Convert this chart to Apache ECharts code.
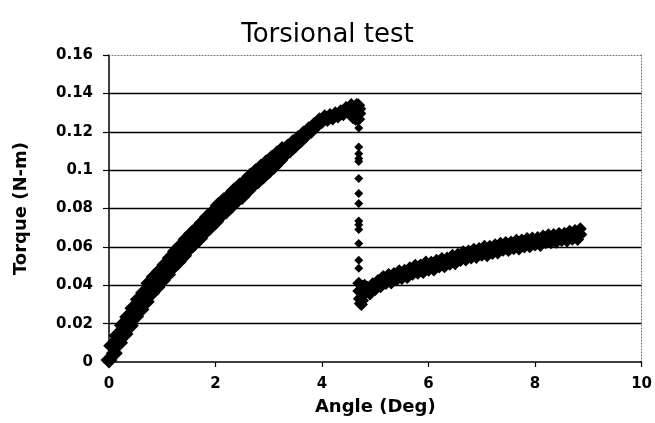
<!DOCTYPE html>
<html>
<head>
<meta charset="utf-8">
<script src="https://cdn.jsdelivr.net/npm/echarts@6/dist/echarts.min.js"></script>
<style>
  html, body { margin: 0; padding: 0; background: #fff; }
  #chart { width: 655px; height: 423px; }
</style>
</head>
<body>
<div id="chart"></div>
<script>
// Torsional test: torque vs. twist angle, sampled readings

// Loading branch up to peak torque [angle (deg), torque (N-m)]
const loadingPoints = [
  [0.00,0.0010],[0.05,0.0085],[0.10,0.0045],[0.15,0.0137],[0.20,0.0100],[0.25,0.0191],
  [0.30,0.0146],[0.35,0.0234],[0.40,0.0189],[0.45,0.0280],[0.50,0.0237],[0.55,0.0326],
  [0.60,0.0274],[0.65,0.0361],[0.70,0.0314],[0.75,0.0411],[0.80,0.0360],[0.85,0.0444],
  [0.90,0.0390],[0.95,0.0473],[1.00,0.0425],[1.05,0.0507],[1.10,0.0456],[1.15,0.0542],
  [1.20,0.0495],[1.25,0.0577],[1.30,0.0523],[1.35,0.0606],[1.40,0.0554],[1.45,0.0640],
  [1.50,0.0590],[1.55,0.0669],[1.60,0.0617],[1.65,0.0694],[1.70,0.0644],[1.75,0.0725],
  [1.80,0.0677],[1.85,0.0756],[1.90,0.0704],[1.95,0.0781],[2.00,0.0731],[2.05,0.0816],
  [2.10,0.0764],[2.15,0.0840],[2.20,0.0787],[2.25,0.0863],[2.30,0.0814],[2.35,0.0893],
  [2.40,0.0842],[2.45,0.0917],[2.50,0.0863],[2.55,0.0940],[2.60,0.0893],[2.65,0.0968],
  [2.70,0.0921],[2.75,0.0992],[2.80,0.0944],[2.85,0.1015],[2.90,0.0970],[2.95,0.1038],
  [3.00,0.0996],[3.05,0.1060],[3.10,0.1022],[3.15,0.1084],[3.20,0.1050],[3.25,0.1108],
  [3.30,0.1074],[3.35,0.1127],[3.40,0.1097],[3.45,0.1151],[3.50,0.1123],[3.55,0.1173],
  [3.60,0.1149],[3.65,0.1196],[3.70,0.1176],[3.75,0.1218],[3.80,0.1200],[3.85,0.1240],
  [3.90,0.1227],[3.95,0.1265],[4.00,0.1251],[4.05,0.1281],[4.10,0.1261],[4.15,0.1287],
  [4.20,0.1269],[4.25,0.1297],[4.30,0.1279],[4.35,0.1307],[4.40,0.1291],[4.45,0.1324],
  [4.50,0.1308],[4.55,0.1339],[4.60,0.1321],[4.65,0.1340],[4.68,0.1338],[4.70,0.1320],
  [4.70,0.1295],[4.68,0.1265],[4.63,0.1268],[4.58,0.1275]
];

// Readings captured during the sudden torque drop at fracture
const fracturePoints = [
  [4.69,0.1220],[4.69,0.1120],[4.69,0.1085],[4.69,0.1060],[4.69,0.1045],[4.69,0.0956],
  [4.69,0.0878],[4.69,0.0826],[4.69,0.0735],[4.69,0.0715],[4.69,0.0690],[4.69,0.0618],
  [4.69,0.0530],[4.69,0.0488]
];

// Residual branch after fracture
const residualPoints = [
  [4.69,0.0410],[4.69,0.0370],[4.70,0.0330],[4.72,0.0305],[4.74,0.0300],[4.76,0.0320],
  [4.76,0.0395],[4.80,0.0355],[4.80,0.0400],
  [4.85,0.0390],[4.90,0.0355],[4.95,0.0408],[5.00,0.0378],[5.05,0.0425],[5.10,0.0392],
  [5.15,0.0445],[5.20,0.0409],[5.25,0.0456],[5.30,0.0412],[5.35,0.0461],[5.40,0.0428],
  [5.45,0.0476],[5.50,0.0435],[5.55,0.0478],[5.60,0.0440],[5.65,0.0491],[5.70,0.0457],
  [5.75,0.0504],[5.80,0.0462],[5.85,0.0505],[5.90,0.0467],[5.95,0.0521],[6.00,0.0478],
  [6.05,0.0520],[6.10,0.0480],[6.15,0.0530],[6.20,0.0495],[6.25,0.0539],[6.30,0.0497],
  [6.35,0.0542],[6.40,0.0509],[6.45,0.0557],[6.50,0.0512],[6.55,0.0562],[6.60,0.0529],
  [6.65,0.0574],[6.70,0.0532],[6.75,0.0579],[6.80,0.0542],[6.85,0.0587],[6.90,0.0544],
  [6.95,0.0591],[7.00,0.0556],[7.05,0.0603],[7.10,0.0554],[7.15,0.0603],[7.20,0.0566],
  [7.25,0.0611],[7.30,0.0568],[7.35,0.0619],[7.40,0.0582],[7.45,0.0623],[7.50,0.0581],
  [7.55,0.0626],[7.60,0.0590],[7.65,0.0635],[7.70,0.0589],[7.75,0.0636],[7.80,0.0600],
  [7.85,0.0643],[7.90,0.0601],[7.95,0.0646],[8.00,0.0610],[8.05,0.0649],[8.10,0.0607],
  [8.15,0.0657],[8.20,0.0621],[8.25,0.0663],[8.30,0.0621],[8.35,0.0664],[8.40,0.0624],
  [8.45,0.0670],[8.50,0.0633],[8.55,0.0671],[8.60,0.0631],[8.65,0.0682],[8.70,0.0640],
  [8.75,0.0685],[8.80,0.0639],[8.85,0.0694],[8.86,0.0665]
];

// Axis ranges
const angleRange = { min: 0, max: 10, step: 2 };
const torqueRange = { min: 0, max: 0.16, step: 0.02 };

const FONT = '"DejaVu Sans", sans-serif';
const chart = echarts.init(document.getElementById('chart'), null, { renderer: 'canvas' });

const markerSeries = (name, data, size) => ({
  name, type: 'scatter', data, symbol: 'diamond', symbolSize: size,
  itemStyle: { color: '#000', opacity: 1 },
  xAxisIndex: 0, yAxisIndex: 0, silent: true
});

// dotted frame on the top and right edges of the plot area
const frameLine = { show: true, onZero: false,
  lineStyle: { color: '#707070', width: 1, type: [1, 2] } };

chart.setOption({
  animation: false,
  backgroundColor: '#fff',
  title: {
    text: 'Torsional test', left: 'center', top: 17,
    textStyle: { fontFamily: FONT, fontSize: 26, fontWeight: 'normal', color: '#000' }
  },
  grid: { left: 109, right: 11, top: 55, bottom: 61 },
  xAxis: [{
    type: 'value', min: angleRange.min, max: angleRange.max, interval: angleRange.step,
    name: 'Angle (Deg)', nameLocation: 'middle', nameGap: 36,
    nameTextStyle: { fontFamily: FONT, fontSize: 18, fontWeight: 'bold', color: '#000' },
    axisLine: { show: true, onZero: false, lineStyle: { color: '#000', width: 1.5 } },
    axisTick: { show: true, inside: false, length: 5, lineStyle: { color: '#000', width: 1.2 } },
    axisLabel: { margin: 15, fontFamily: FONT, fontSize: 15, fontWeight: 'bold', color: '#000' },
    splitLine: { show: false }
  }, {
    type: 'value', position: 'top', min: angleRange.min, max: angleRange.max,
    axisLine: frameLine,
    axisTick: { show: false }, axisLabel: { show: false }, splitLine: { show: false }
  }],
  yAxis: [{
    type: 'value', min: torqueRange.min, max: torqueRange.max, interval: torqueRange.step,
    name: 'Torque (N-m)', nameLocation: 'middle', nameGap: 79, nameRotate: 90,
    nameTextStyle: { fontFamily: FONT, fontSize: 18, fontWeight: 'bold', color: '#000' },
    axisLine: { show: true, onZero: false, lineStyle: { color: '#000', width: 1.5 } },
    axisTick: { show: true, inside: false, length: 6, lineStyle: { color: '#000', width: 1.2 } },
    axisLabel: {
      margin: 16, fontFamily: FONT, fontSize: 15, fontWeight: 'bold', color: '#000',
      formatter: v => String(Math.round(v * 100) / 100)
    },
    splitLine: { show: true, showMinLine: false, showMaxLine: false,
      lineStyle: { color: '#000', width: 1.4 } }
  }, {
    type: 'value', position: 'right', min: torqueRange.min, max: torqueRange.max,
    axisLine: frameLine,
    axisTick: { show: false }, axisLabel: { show: false }, splitLine: { show: false }
  }],
  series: [
    markerSeries('Loading', loadingPoints, v => (v[0] < 3.3 ? 17 : 14)),
    markerSeries('Fracture', fracturePoints, 9),
    markerSeries('Residual', residualPoints, 13),
    // empty series bound to the frame axes so they are laid out
    { type: 'scatter', data: [], xAxisIndex: 1, yAxisIndex: 1, silent: true }
  ]
});
</script>
</body>
</html>
